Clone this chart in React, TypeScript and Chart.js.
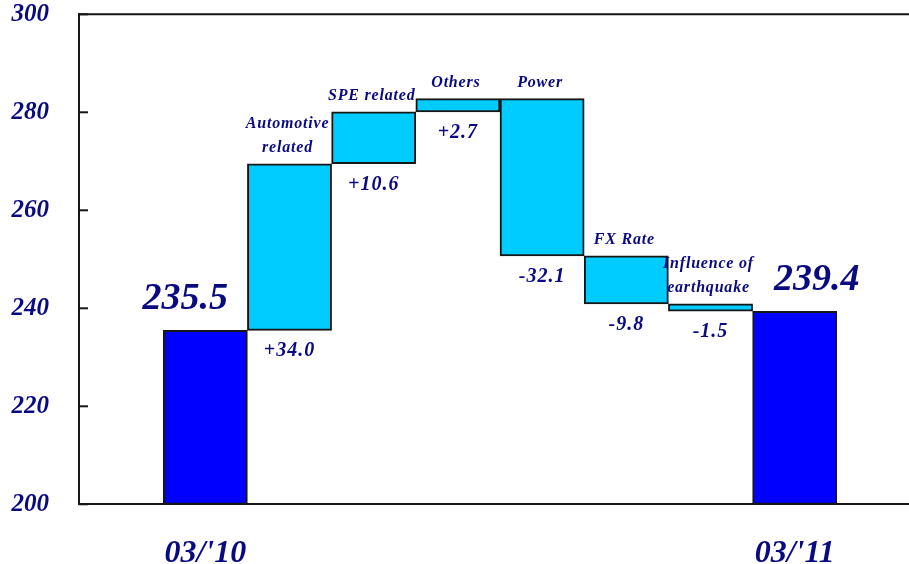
import React, { useEffect, useRef } from 'react';
import { Chart, registerables } from 'chart.js';

Chart.register(...registerables);

// Value axis range
const yMin = 200;
const yMax = 300;
const yStep = 20;

// Opening and closing totals
const startLabel = "03/'10";
const startValue = 235.5;
const endLabel = "03/'11";
const endValue = 239.4;

// Bridge steps between the two totals
const stepNames: string[][] = [
  ['Automotive', 'related'],
  ['SPE related'],
  ['Others'],
  ['Power'],
  ['FX Rate'],
  ['Influence of', 'earthquake'],
];
const stepDeltas = [34.0, 10.6, 2.7, -32.1, -9.8, -1.5];

const NAVY = '#0a0a80';
const TOTAL_BLUE = '#0000ff';
const STEP_CYAN = '#00ccff';
const LINE = '#161616';
const SERIF = '"Liberation Serif", "Times New Roman", serif';

const CANVAS_W = 930;
const CANVAS_H = 564;

export default function App() {
  const canvasRef = useRef<HTMLCanvasElement | null>(null);

  useEffect(() => {
    const canvas = canvasRef.current;
    if (!canvas) return;

    // one empty slot on each side of the bars
    const labels = ['', startLabel, ...stepNames.map((n) => n.join(' ')), endLabel, ''];
    const ranges: ([number, number] | null)[] = [null, [yMin, startValue]];
    let running = startValue;
    for (const d of stepDeltas) {
      const next = Math.round((running + d) * 10) / 10;
      ranges.push([running, next]);
      running = next;
    }
    ranges.push([yMin, endValue]);
    ranges.push(null);

    const totalIdx = [1, labels.length - 2];
    const colors = labels.map((_, i) => (totalIdx.includes(i) ? TOTAL_BLUE : STEP_CYAN));

    const setSpacing = (ctx: CanvasRenderingContext2D, px: number) => {
      (ctx as any).letterSpacing = `${px}px`;
    };

    const annotate = {
      id: 'bridgeAnnotations',
      afterDraw(chart: Chart) {
        const ctx = chart.ctx;
        const area = chart.chartArea;
        const yScale = chart.scales.y;
        ctx.save();

        // frame line along the top
        ctx.strokeStyle = LINE;
        ctx.lineWidth = 2;
        ctx.beginPath();
        ctx.moveTo(area.left - 1, area.top);
        ctx.lineTo(chart.width, area.top);
        ctx.stroke();

        // inward tick marks on the value axis
        for (let v = yMin; v <= yMax; v += yStep) {
          const py = yScale.getPixelForValue(v);
          ctx.beginPath();
          ctx.moveTo(area.left, py);
          ctx.lineTo(area.left + 9, py);
          ctx.stroke();
        }

        const meta = chart.getDatasetMeta(0);
        ctx.fillStyle = NAVY;
        ctx.textAlign = 'center';
        ctx.textBaseline = 'alphabetic';

        // totals
        const totals = [startValue, endValue];
        const totalShift = [-20, 22];
        totalIdx.forEach((idx, k) => {
          const bar: any = meta.data[idx];
          const top = Math.min(bar.y, bar.base);
          ctx.font = `italic bold 38px ${SERIF}`;
          setSpacing(ctx, 0);
          ctx.fillText(totals[k].toFixed(1), bar.x + totalShift[k], top - 21);
        });

        // step names above, deltas below
        stepDeltas.forEach((d, k) => {
          const bar: any = meta.data[k + 2];
          const top = Math.min(bar.y, bar.base);
          const bottom = Math.max(bar.y, bar.base);
          const lines = stepNames[k];
          ctx.font = `italic bold 16px ${SERIF}`;
          setSpacing(ctx, 0.8);
          lines.forEach((ln, j) => {
            const by = top - 12 - (lines.length - 1 - j) * 24;
            ctx.fillText(ln, bar.x - 2, by);
          });
          ctx.font = `italic bold 20px ${SERIF}`;
          setSpacing(ctx, 1);
          const txt = (d > 0 ? '+' : '') + d.toFixed(1);
          ctx.fillText(txt, bar.x, bottom + 26);
        });

        ctx.restore();
      },
    };

    const chart = new Chart(canvas, {
      type: 'bar',
      data: {
        labels,
        datasets: [
          {
            data: ranges as any,
            backgroundColor: colors,
            borderColor: LINE,
            borderWidth: 2,
            borderSkipped: false,
            barPercentage: 1,
            categoryPercentage: 1,
          },
        ],
      },
      options: {
        animation: false,
        responsive: false,
        devicePixelRatio: 1,
        layout: { padding: { top: 14.3, right: CANVAS_W - 921, left: 0, bottom: 0 } },
        plugins: {
          legend: { display: false },
          tooltip: { enabled: false },
        },
        scales: {
          x: {
            grid: { display: false },
            border: { display: true, color: LINE, width: 2 },
            ticks: {
              autoSkip: false,
              maxRotation: 0,
              padding: 22,
              color: NAVY,
              font: { family: SERIF, size: 32, style: 'italic', weight: 'bold', lineHeight: 1.2 },
              callback: (_v: any, i: number) => (totalIdx.includes(i) ? labels[i] : ''),
            },
            afterFit: (scale: any) => {
              scale.height = CANVAS_H - 504.3;
              scale.paddingLeft = 0;
              scale.paddingRight = 0;
            },
          },
          y: {
            min: yMin,
            max: yMax,
            grid: { display: false, drawTicks: false },
            border: { display: true, color: LINE, width: 2 },
            ticks: {
              stepSize: yStep,
              padding: 30,
              color: NAVY,
              font: { family: SERIF, size: 25, style: 'italic', weight: 'bold', lineHeight: 1 },
            },
            afterFit: (scale: any) => {
              scale.width = 79;
              scale.paddingTop = 0;
              scale.paddingBottom = 0;
            },
          },
        },
      },
      plugins: [annotate],
    });

    return () => chart.destroy();
  }, []);

  return (
    <div
      style={{
        position: 'absolute',
        left: 0,
        top: 0,
        width: 909,
        height: CANVAS_H,
        overflow: 'hidden',
        background: '#fff',
      }}
    >
      <canvas
        ref={canvasRef}
        width={CANVAS_W}
        height={CANVAS_H}
        style={{ width: CANVAS_W, height: CANVAS_H, display: 'block' }}
      />
    </div>
  );
}
